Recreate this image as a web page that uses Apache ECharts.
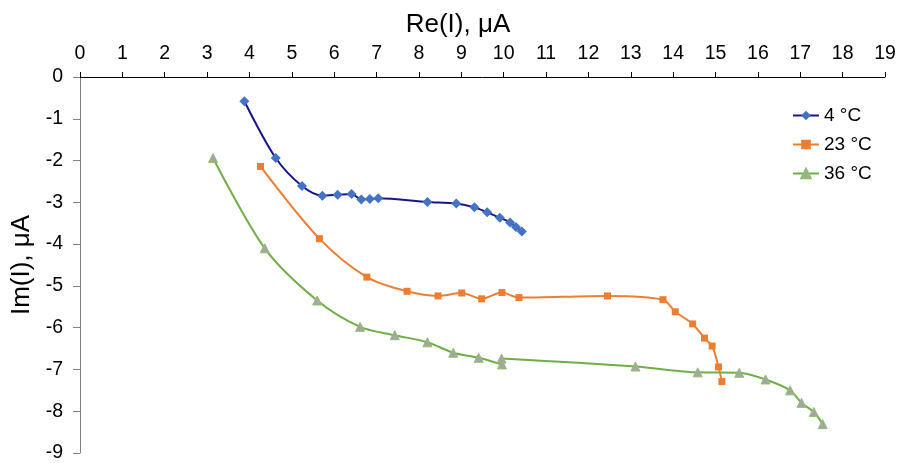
<!DOCTYPE html>
<html>
<head>
<meta charset="utf-8">
<script src="https://cdn.jsdelivr.net/npm/echarts@6/dist/echarts.min.js"></script>
<style>
  html, body { margin: 0; padding: 0; background: #fff; }
  #chart { width: 900px; height: 463px; }
</style>
</head>
<body>
<div id="chart"></div>
<script>
// Nyquist-type current response at three temperatures (Re vs Im, µA)
const seriesNames = ['4 °C', '23 °C', '36 °C'];

const re4 = [3.88, 4.62, 5.24, 5.72, 6.08, 6.41, 6.64, 6.84, 7.04, 8.20, 8.88, 9.31, 9.61, 9.91, 10.15, 10.29, 10.43];
const im4 = [-0.58, -1.94, -2.61, -2.84, -2.82, -2.80, -2.93, -2.92, -2.90, -2.99, -3.03, -3.12, -3.24, -3.37, -3.48, -3.59, -3.70];

const re23 = [4.26, 5.65, 6.77, 7.72, 8.45, 9.01, 9.48, 9.96, 10.36, 12.45, 13.76, 14.05, 14.46, 14.74, 14.92, 15.07, 15.15];
const im23 = [-2.14, -3.87, -4.79, -5.13, -5.24, -5.17, -5.31, -5.16, -5.28, -5.24, -5.33, -5.62, -5.91, -6.25, -6.44, -6.94, -7.29];

const re36 = [3.14, 4.36, 5.60, 6.61, 7.43, 8.20, 8.81, 9.41, 9.96, 9.95, 13.11, 14.58, 15.56, 16.18, 16.76, 17.03, 17.32, 17.53];
const im36 = [-1.94, -4.10, -5.35, -5.98, -6.18, -6.35, -6.60, -6.72, -6.88, -6.74, -6.93, -7.07, -7.08, -7.24, -7.50, -7.80, -8.02, -8.31];

const xTicks = { min: 0, max: 19, step: 1 };
const yTicks = { min: -9, max: 0, step: 1 };

const pairs = (xs, ys) => xs.map((x, i) => [x, ys[i]]);

const font = 'Liberation Sans, Arial, sans-serif';
const chart = echarts.init(document.getElementById('chart'), null, { renderer: 'canvas' });

chart.setOption({
  animation: false,
  backgroundColor: '#ffffff',
  textStyle: { fontFamily: font },
  title: {
    text: 'Re(I), μA',
    left: 453,
    top: 7,
    textAlign: 'center',
    textStyle: { fontFamily: font, fontSize: 26, fontWeight: 'normal', color: '#000' }
  },
  grid: { left: 80, right: 15, top: 77, bottom: 7, containLabel: false },
  legend: {
    orient: 'vertical',
    left: 787,
    top: 101,
    itemWidth: 26,
    itemHeight: 12,
    itemGap: 10,
    textStyle: { fontFamily: font, fontSize: 19, color: '#000', lineHeight: 19 },
    data: seriesNames
  },
  xAxis: {
    type: 'value',
    position: 'top',
    min: xTicks.min,
    max: xTicks.max,
    interval: xTicks.step,
    axisLine: { onZero: false, lineStyle: { color: '#000', width: 1 } },
    axisTick: { show: true, inside: false, length: 5, lineStyle: { color: '#000' } },
    axisLabel: { fontFamily: font, fontSize: 19.5, color: '#000', margin: 13 },
    splitLine: { show: false }
  },
  yAxis: {
    type: 'value',
    min: yTicks.min,
    max: yTicks.max,
    interval: yTicks.step,
    name: 'Im(I), μA',
    nameLocation: 'middle',
    nameRotate: 90,
    nameGap: 45,
    nameTextStyle: { fontFamily: font, fontSize: 26, color: '#000' },
    axisLine: { onZero: false, lineStyle: { color: '#808080', width: 1 } },
    axisTick: { show: true, inside: false, length: 7, lineStyle: { color: '#808080' } },
    axisLabel: { fontFamily: font, fontSize: 19.5, color: '#000', margin: 17 },
    splitLine: { show: false }
  },
  series: [
    {
      name: seriesNames[0],
      type: 'line',
      smooth: 0.3,
      data: pairs(re4, im4),
      symbol: 'diamond',
      symbolSize: 10,
      lineStyle: { color: '#16168a', width: 2 },
      itemStyle: { color: '#4472C4' }
    },
    {
      name: seriesNames[1],
      type: 'line',
      smooth: 0.3,
      data: pairs(re23, im23),
      symbol: 'rect',
      symbolSize: 7,
      lineStyle: { color: '#ED7D31', width: 2 },
      itemStyle: { color: '#ED7D31' }
    },
    {
      name: seriesNames[2],
      type: 'line',
      smooth: 0.3,
      data: pairs(re36, im36),
      symbol: 'triangle',
      symbolSize: 9,
      lineStyle: { color: '#70AD47', width: 2 },
      itemStyle: { color: '#A5A5A5', borderColor: '#8fc06e', borderWidth: 1 }
    }
  ]
});
</script>
</body>
</html>
